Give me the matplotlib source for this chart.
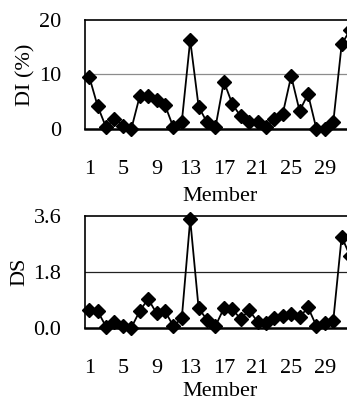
import matplotlib
matplotlib.use("Agg")
import matplotlib.pyplot as plt
import numpy as np

plt.rcParams['font.family'] = ['Liberation Serif', 'DejaVu Serif']
plt.rcParams['font.size'] = 16

members = np.arange(1, 33)
di = [9.6, 4.2, 0.3, 1.9, 0.6, 0.0, 6.0, 6.0, 5.4, 4.4,
      0.3, 1.3, 16.3, 4.1, 1.2, 0.3, 8.7, 4.6, 2.3, 1.2,
      1.2, 0.4, 1.8, 2.8, 9.7, 3.3, 6.4, 0.0, 0.0, 1.2,
      15.5, 18.2]
ds = [0.58, 0.55, 0.05, 0.21, 0.07, 0.02, 0.55, 0.94, 0.48, 0.55,
      0.07, 0.32, 3.48, 0.64, 0.27, 0.07, 0.64, 0.61, 0.30, 0.58,
      0.21, 0.16, 0.32, 0.39, 0.46, 0.35, 0.67, 0.07, 0.17, 0.24,
      2.93, 2.31]
xticks = [1, 5, 9, 13, 17, 21, 25, 29]

fig = plt.figure(figsize=(3.47, 4.03), dpi=100)

def panel(rect, vals, yticks, ylabels, ylabel, grid_y, grid_color, xlpad):
    ax = fig.add_axes(rect)
    ax.axhline(grid_y, color=grid_color, lw=0.9, zorder=1)
    ax.plot(members, vals, color='black', lw=1.3, marker='D', markersize=7,
            zorder=3, clip_on=False)
    ax.set_xlim(0.5, 32.5)
    ax.set_ylim(yticks[0], yticks[-1])
    ax.set_yticks(yticks)
    ax.set_yticklabels(ylabels)
    ax.set_xticks(xticks)
    ax.tick_params(axis='y', length=0, pad=17)
    ax.tick_params(axis='x', length=0, pad=22)
    for s in ['left', 'top']:
        ax.spines[s].set_linewidth(1.2)
    ax.spines['bottom'].set_linewidth(1.8)
    ax.spines['right'].set_visible(False)
    ax.set_xlabel('Member', labelpad=xlpad)
    ax.set_ylabel(ylabel, labelpad=3)
    return ax

panel([0.245, 0.680, 0.776, 0.2705], di, [0, 10, 20], ['0', '10', '20'],
      'DI (%)', 10, '#8c8c8c', 6)
panel([0.245, 0.1854, 0.776, 0.2794], ds, [0, 1.8, 3.6], ['0.0', '1.8', '3.6'],
      'DS', 1.8, '#222222', 3)

fig.savefig('out.png', dpi=100)
